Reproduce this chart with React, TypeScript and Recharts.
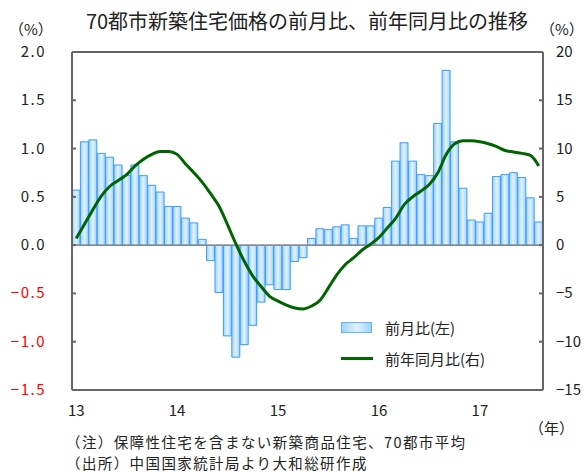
import { Bar, ComposedChart, Legend, Line, ReferenceLine, XAxis, YAxis } from "recharts";

// 2013/01 .. 2017/08, monthly
const years = ["13", "14", "15", "16", "17"];
const monthsInLastYear = 8;

// 前月比 (%), left axis
const momValues = [
  0.57, 1.07, 1.09, 0.95, 0.91, 0.83, 0.72, 0.83, 0.72, 0.62, 0.55, 0.4,
  0.4, 0.28, 0.23, 0.06, -0.16, -0.49, -0.94, -1.16, -1.03, -0.83, -0.59, -0.41,
  -0.46, -0.46, -0.17, -0.13, 0.07, 0.17, 0.16, 0.19, 0.21, 0.07, 0.2, 0.2,
  0.28, 0.39, 0.87, 1.06, 0.87, 0.73, 0.72, 1.26, 1.81, 1.07, 0.59, 0.26,
  0.24, 0.33, 0.71, 0.73, 0.75, 0.7, 0.49, 0.24,
];

// 前年同月比 (%), right axis
const yoyValues = [
  0.7, 2.2, 3.7, 5.1, 6.1, 6.7, 7.3, 8.2, 8.9, 9.4, 9.7, 9.7,
  9.4, 8.4, 7.5, 6.5, 5.3, 4.0, 2.1, 0.1, -1.7, -3.2, -4.3, -5.3,
  -5.8, -6.2, -6.5, -6.6, -6.3, -5.7, -4.4, -3.05, -2.0, -1.3, -0.5, 0.1,
  0.8, 1.8, 2.8, 4.2, 5.0, 5.6, 6.3, 7.5, 9.4, 10.5, 10.8, 10.8,
  10.7, 10.5, 10.2, 9.8, 9.65, 9.5, 9.3, 8.2,
];

const leftTicks = [-1.5, -1, -0.5, 0, 0.5, 1, 1.5, 2];
const rightTicks = [-15, -10, -5, 0, 5, 10, 15, 20];

const months: string[] = [];
years.forEach((y, yi) => {
  const n = yi === years.length - 1 ? monthsInLastYear : 12;
  for (let m = 1; m <= n; m++) months.push(`${y}-${String(m).padStart(2, "0")}`);
});
const yearTicks = years.map((y) => `${y}-01`);

const data = months.map((month, i) => ({
  month,
  mom: momValues[i],
  yoy: yoyValues[i],
}));

const FONT = "'Noto Sans CJK JP', 'Noto Sans', sans-serif";
const FRAME = "#666666";

function LeftTick({ x, y, payload }: any) {
  const v = payload.value as number;
  return (
    <text x={x} y={y} dy={5} textAnchor="end" fontSize={15} fontFamily={FONT} fill={v < 0 ? "#ff0000" : "#222"} letterSpacing={1.5}>
      {v < 0 ? "−" + Math.abs(v).toFixed(1) : v.toFixed(1)}
    </text>
  );
}

function RightTick({ x, y, payload }: any) {
  const v = payload.value as number;
  return (
    <text x={x} y={y} dy={5} textAnchor="start" fontSize={15} fontFamily={FONT} fill="#222">
      {v < 0 ? "−" + Math.abs(v) : v}
    </text>
  );
}

function YearTick({ x, y, payload }: any) {
  return (
    <text x={x} y={y} dy={5} textAnchor="middle" fontSize={15} fontFamily={FONT} fill="#222">
      {String(payload.value).slice(0, 2)}
    </text>
  );
}

function LegendBox() {
  const row = { display: "flex", alignItems: "center", height: 31 } as const;
  return (
    <div style={{ fontFamily: FONT, fontSize: 15, color: "#222" }}>
      <div style={row}>
        <span style={{ display: "inline-block", width: 29, height: 9, border: "1px solid #66b3ff", background: "linear-gradient(to right, #9fd3ff, #e0f2ff 50%, #9fd3ff)", marginRight: 13 }} />
        前月比(左)
      </div>
      <div style={row}>
        <span style={{ display: "inline-block", width: 32, height: 3, background: "#006400", marginRight: 12 }} />
        前年同月比(右)
      </div>
    </div>
  );
}

export default function App() {
  return (
    <div style={{ position: "absolute", left: 0, top: 0, width: 586, height: 472, background: "#fff", fontFamily: FONT, color: "#222", overflow: "hidden" }}>
      <div style={{ position: "absolute", left: 0, width: 586, top: 6, textAlign: "center", fontSize: 20, paddingLeft: 14 }}>
        70都市新築住宅価格の前月比、前年同月比の推移
      </div>
      <div style={{ position: "absolute", left: 9, top: 18, fontSize: 15 }}>（%）</div>
      <div style={{ position: "absolute", left: 540, top: 18, fontSize: 15 }}>（%）</div>
      <div style={{ position: "absolute", left: 529, top: 417, fontSize: 15 }}>（年）</div>
      <div style={{ position: "absolute", left: 66, top: 431, fontSize: 14.5, lineHeight: "21px", letterSpacing: 1.4 }}>
        <div>（注）保障性住宅を含まない新築商品住宅、70都市平均</div>
        <div>（出所）中国国家統計局より大和総研作成</div>
      </div>
      <ComposedChart
        width={586}
        height={472}
        data={data}
        barCategoryGap={0}
        barGap={0}
        margin={{ top: 52, right: 3, left: 12, bottom: 52 }}
        style={{ position: "absolute", left: 0, top: 0 }}
      >
        <defs>
          <linearGradient id="barGrad" x1="0" y1="0" x2="1" y2="0">
            <stop offset="0%" stopColor="#9fd3ff" />
            <stop offset="50%" stopColor="#e0f2ff" />
            <stop offset="100%" stopColor="#9fd3ff" />
          </linearGradient>
        </defs>
        <XAxis
          dataKey="month"
          ticks={yearTicks}
          interval={0}
          tick={<YearTick />}
          tickLine={false}
          tickSize={0}
          tickMargin={21}
          height={30}
          axisLine={{ stroke: FRAME, strokeWidth: 2 }}
        />
        <YAxis
          yAxisId="left"
          orientation="left"
          domain={[-1.5, 2]}
          ticks={leftTicks}
          allowDataOverflow
          width={60}
          tick={<LeftTick />}
          tickSize={-4}
          tickMargin={30}
          tickLine={{ stroke: FRAME, strokeWidth: 2 }}
          axisLine={{ stroke: FRAME, strokeWidth: 2 }}
        />
        <YAxis
          yAxisId="right"
          orientation="right"
          domain={[-15, 20]}
          ticks={rightTicks}
          allowDataOverflow
          width={40}
          tick={<RightTick />}
          tickSize={-4}
          tickMargin={17}
          tickLine={{ stroke: FRAME, strokeWidth: 2 }}
          axisLine={{ stroke: FRAME, strokeWidth: 2 }}
        />
        <ReferenceLine yAxisId="left" y={2} stroke={FRAME} strokeWidth={2} />
        <Bar
          yAxisId="left"
          dataKey="mom"
          name="前月比(左)"
          fill="url(#barGrad)"
          stroke="#3d9cff"
          strokeWidth={1}
          isAnimationActive={false}
        />
        <ReferenceLine yAxisId="left" y={0} stroke="#888" strokeWidth={1.5} />
        <Line
          yAxisId="right"
          dataKey="yoy"
          name="前年同月比(右)"
          type="monotone"
          stroke="#006400"
          strokeWidth={3}
          dot={false}
          isAnimationActive={false}
        />
        <Legend
          layout="vertical"
          align="center"
          verticalAlign="middle"
          content={<LegendBox />}
          wrapperStyle={{ left: 341, top: 312, width: 200 }}
        />
      </ComposedChart>
    </div>
  );
}
